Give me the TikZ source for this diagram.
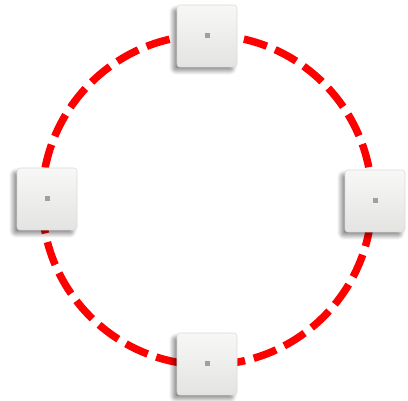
\documentclass[tikz,border=0pt]{standalone}
\usetikzlibrary{shadows.blur}
\definecolor{ringred}{RGB}{255,0,0}
\definecolor{boxface}{RGB}{236,236,234}
\definecolor{boxedge}{RGB}{220,220,218}
\definecolor{dotgray}{RGB}{160,160,160}
\tikzset{
  ring/.style={draw=ringred, line width=7.5pt, dash pattern=on 24pt off 9pt},
  tile/.style={minimum width=60pt, minimum height=62pt, rounded corners=3pt,
    top color=white!60!boxface, bottom color=boxface!92!gray, draw=boxedge, line width=0.6pt,
    blur shadow={shadow xshift=-4pt, shadow yshift=-4pt, shadow blur steps=8, shadow blur radius=4pt, shadow opacity=45},
    inner sep=0pt},
  pip/.style={fill=dotgray, minimum size=5pt, inner sep=0pt, draw=none}
}
\begin{document}
\begin{tikzpicture}[x=1pt,y=1pt]
\useasboundingbox (0,0) rectangle (408,401);
\coordinate (c) at (207,201);
\draw[ring] (c) circle[radius=165];
\node[tile] (top) at (207,365) {};
\node[tile] (left) at (47,202) {};
\node[tile] (right) at (375,200) {};
\node[tile] (bottom) at (207,37) {};
\foreach \n in {top,left,right,bottom} \node[pip] (\n-pip) at (\n) {};
\end{tikzpicture}
\end{document}
